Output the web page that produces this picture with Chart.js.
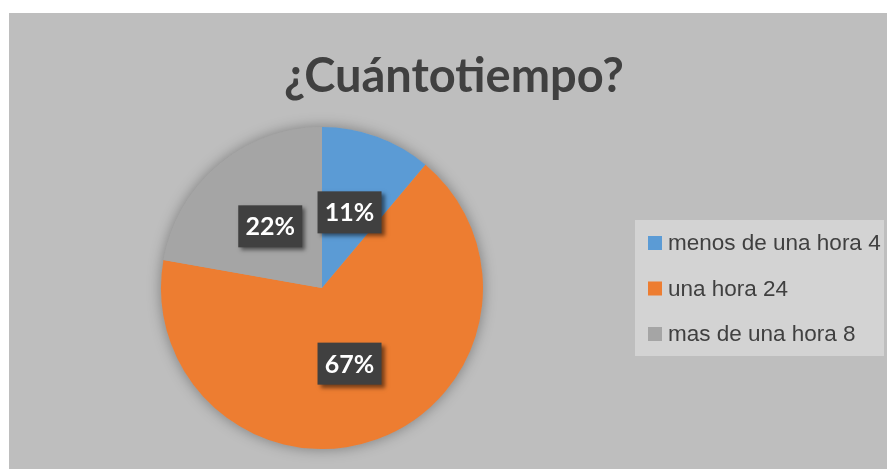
<!DOCTYPE html>
<html>
<head>
<meta charset="utf-8">
<script src="https://cdn.jsdelivr.net/npm/chart.js@4"></script>
<style>
    html, body { margin: 0; padding: 0; background: #ffffff; }
    #wrap {
        position: absolute;
        left: 9px;
        top: 13px;
        width: 878px;
        height: 456px;
        background: #bebebe;
    }
</style>
</head>
<body>
<div id="wrap"><canvas id="pieChart" width="878" height="456"></canvas></div>
<script>
// 数据
const chartTitle = '¿Cuántotiempo?';
const categories = ['menos de una hora', 'una hora', 'mas de una hora'];
const counts = [4, 24, 8];
const sliceColors = ['#5b9bd5', '#ed7d31', '#a5a5a5'];

// 标题（居中于整个画布）
const centerTitle = {
    id: 'centerTitle',
    afterDraw(chart) {
        const ctx = chart.ctx;
        ctx.save();
        ctx.fillStyle = '#404040';
        ctx.font = 'bold 47px Lato';
        ctx.textAlign = 'center';
        ctx.textBaseline = 'alphabetic';
        ctx.fillText(chartTitle, chart.width / 2 + 6, 79);
        ctx.restore();
    }
};

// 饼图阴影
const pieShadow = {
    id: 'pieShadow',
    beforeDatasetsDraw(chart) {
        const arc = chart.getDatasetMeta(0).data[0];
        if (!arc) return;
        const ctx = chart.ctx;
        ctx.save();
        ctx.shadowColor = 'rgba(0,0,0,0.35)';
        ctx.shadowBlur = 14;
        ctx.fillStyle = '#a5a5a5';
        ctx.beginPath();
        ctx.arc(arc.x, arc.y, arc.outerRadius, 0, Math.PI * 2);
        ctx.fill();
        ctx.restore();
    }
};

// 百分比标签
const percentLabels = {
    id: 'percentLabels',
    afterDatasetsDraw(chart) {
        const ctx = chart.ctx;
        const total = counts.reduce((a, b) => a + b, 0);
        chart.getDatasetMeta(0).data.forEach((arc, i) => {
            const pos = arc.tooltipPosition();
            const text = Math.round(counts[i] / total * 100) + '%';
            ctx.save();
            ctx.shadowColor = 'rgba(0,0,0,0.5)';
            ctx.shadowBlur = 4;
            ctx.shadowOffsetX = 3;
            ctx.shadowOffsetY = 3;
            ctx.fillStyle = '#404040';
            ctx.fillRect(pos.x - 32, pos.y - 21, 64, 42);
            ctx.restore();
            ctx.save();
            ctx.fillStyle = '#ffffff';
            ctx.font = 'bold 25px Lato';
            ctx.textAlign = 'center';
            ctx.textBaseline = 'middle';
            ctx.fillText(text, pos.x, pos.y + 1);
            ctx.restore();
        });
    }
};

// 图例
const sideLegend = {
    id: 'sideLegend',
    afterDraw(chart) {
        const ctx = chart.ctx;
        const left = 626, top = 207;
        ctx.save();
        ctx.fillStyle = '#d3d3d3';
        ctx.fillRect(left, top, 249, 136);
        ctx.font = '22.5px "Liberation Sans"';
        ctx.textBaseline = 'middle';
        chart.data.labels.forEach((label, i) => {
            const y = top + 23 + i * 45.5;
            ctx.fillStyle = sliceColors[i];
            ctx.fillRect(left + 13, y - 7, 14, 14);
            ctx.fillStyle = '#404040';
            ctx.fillText(label + ' ' + counts[i], left + 33, y + 1);
        });
        ctx.restore();
    }
};

new Chart(document.getElementById('pieChart'), {
    type: 'pie',
    data: {
        labels: categories,
        datasets: [{
            data: counts,
            backgroundColor: sliceColors,
            borderWidth: 0
        }]
    },
    options: {
        responsive: false,
        animation: false,
        layout: {
            padding: { left: 152, right: 404, top: 114, bottom: 20 }
        },
        plugins: {
            legend: { display: false },
            tooltip: { enabled: false },
            title: { display: false }
        }
    },
    plugins: [pieShadow, percentLabels, sideLegend, centerTitle]
});
</script>
</body>
</html>
